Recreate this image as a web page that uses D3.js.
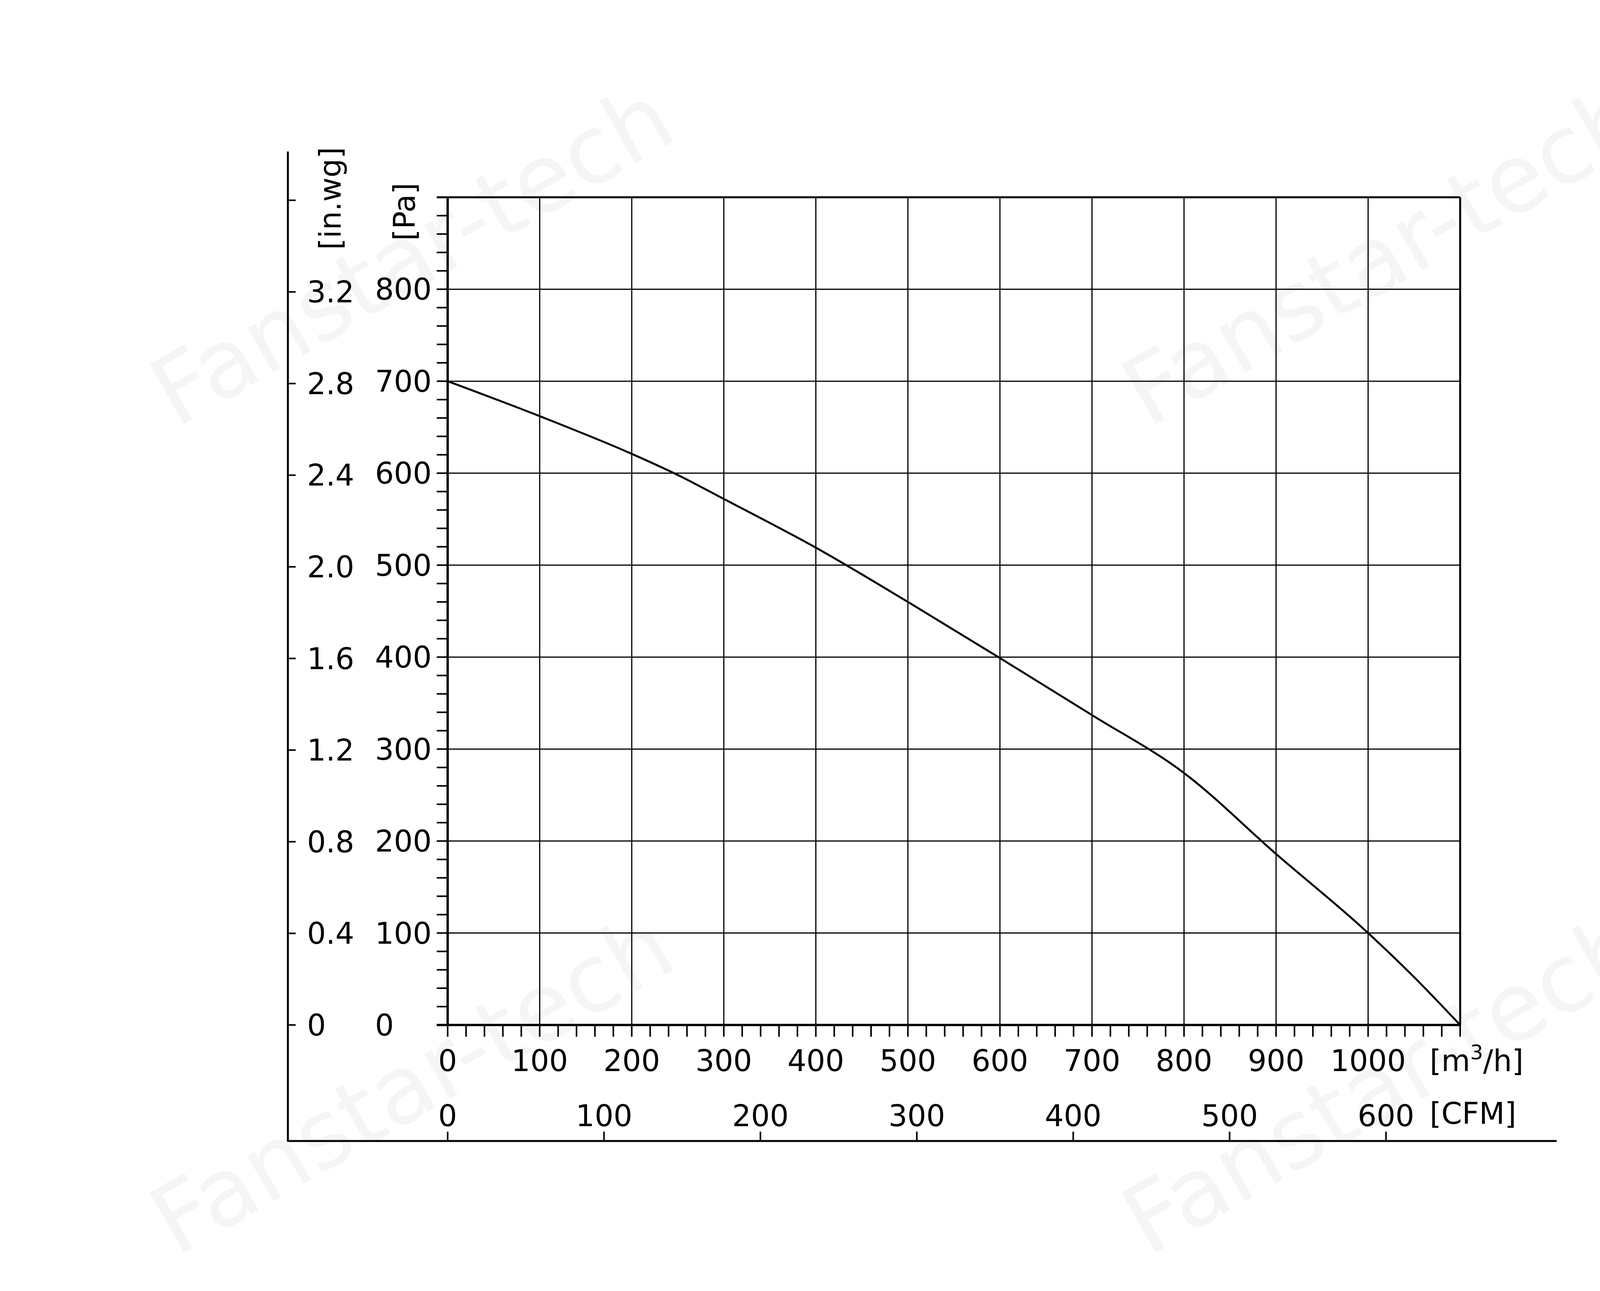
<!DOCTYPE html>
<html><head><meta charset="utf-8">
<script src="https://cdn.jsdelivr.net/npm/d3@7"></script>
<style>body{margin:0;background:#fff}</style></head>
<body><svg id="c" width="4677" height="3305"></svg>
<script>
const flow = [0,100,200,250,300,400,500,600,700,800,900,1000,1050,1100];
const pressure = [700,662,621,598,572,519,460,399,337,274,186,100,52,0];
const xTicks = [0,100,200,300,400,500,600,700,800,900,1000];
const paTicks = [0,100,200,300,400,500,600,700,800];
const inwgTicks = [0,0.4,0.8,1.2,1.6,2.0,2.4,2.8,3.2,3.6];
const cfmTicks = [0,100,200,300,400,500,600];

const svg = d3.select("#c");
const F = "DejaVu Sans, Verdana, sans-serif";
const x = d3.scaleLinear().domain([0,1100]).range([1146,3738]);
const y = d3.scaleLinear().domain([0,900]).range([2624,505]);
const yIn = d3.scaleLinear().domain([0,900/249.09]).range([2624,505]);
const xC = d3.scaleLinear().domain([0,1100/1.699]).range([1146,3738]);

// watermark
[[1096,725],[3584,725],[1096,2846],[3584,2846]].forEach(([cx,cy])=>{
  svg.append("text").attr("transform",`translate(${cx},${cy}) rotate(-30)`)
    .attr("text-anchor","middle")
    .attr("font-family",F).attr("font-size",242).attr("fill","#f5f5f5").text("Fanstar-tech");
});

const g = svg.append("g");
xTicks.concat([1100]).forEach(v=>g.append("line").attr("x1",x(v)).attr("x2",x(v)).attr("y1",y(0)).attr("y2",y(900)).attr("stroke","#000").attr("stroke-width",3));
paTicks.concat([900]).forEach(v=>g.append("line").attr("x1",x(0)).attr("x2",x(1100)).attr("y1",y(v)).attr("y2",y(v)).attr("stroke","#000").attr("stroke-width",3));
g.append("line").attr("x1",x(0)-28).attr("x2",x(1100)).attr("y1",y(900)).attr("y2",y(900)).attr("stroke","#000").attr("stroke-width",5);
g.append("line").attr("x1",x(1100)).attr("x2",x(1100)).attr("y1",y(0)).attr("y2",y(900)).attr("stroke","#000").attr("stroke-width",5);
g.append("line").attr("x1",x(0)).attr("x2",x(0)).attr("y1",y(0)).attr("y2",y(900)).attr("stroke","#000").attr("stroke-width",6);
g.append("line").attr("x1",x(0)-28).attr("x2",x(1100)).attr("y1",y(0)).attr("y2",y(0)).attr("stroke","#000").attr("stroke-width",6);

d3.range(0,901,20).forEach(v=>g.append("line").attr("x1",x(0)-28).attr("x2",x(0)).attr("y1",y(v)).attr("y2",y(v)).attr("stroke","#000").attr("stroke-width",4));
d3.range(0,1101,20).forEach(v=>g.append("line").attr("x1",x(v)).attr("x2",x(v)).attr("y1",y(0)).attr("y2",y(0)+30).attr("stroke","#000").attr("stroke-width",4));

paTicks.forEach(v=>svg.append("text").attr("x",960).attr("y",y(v)+27).attr("font-family",F).attr("font-size",76).text(v));
svg.append("line").attr("x1",737).attr("x2",737).attr("y1",388).attr("y2",2923).attr("stroke","#000").attr("stroke-width",5);
inwgTicks.forEach(v=>svg.append("line").attr("x1",737).attr("x2",757).attr("y1",yIn(v)).attr("y2",yIn(v)).attr("stroke","#000").attr("stroke-width",4));
inwgTicks.slice(0,-1).forEach(v=>svg.append("text").attr("x",786).attr("y",yIn(v)+27).attr("font-family",F).attr("font-size",76).text(v===0?"0":v.toFixed(1)));
svg.append("text").attr("transform","translate(872,508) rotate(-90)").attr("text-anchor","middle").attr("font-family",F).attr("font-size",76).text("[in.wg]");
svg.append("text").attr("transform","translate(1062,542) rotate(-90)").attr("text-anchor","middle").attr("font-family",F).attr("font-size",76).text("[Pa]");

xTicks.forEach(v=>svg.append("text").attr("x",x(v)).attr("y",2742).attr("text-anchor","middle").attr("font-family",F).attr("font-size",76).text(v));
const u = svg.append("text").attr("x",3660).attr("y",2742).attr("font-family",F).attr("font-size",76);
u.append("tspan").text("[m");
u.append("tspan").attr("dy",-30).attr("font-size",52).text("3");
u.append("tspan").attr("dy",30).text("/h]");

svg.append("line").attr("x1",737).attr("x2",3985).attr("y1",2921).attr("y2",2921).attr("stroke","#000").attr("stroke-width",5);
cfmTicks.forEach(v=>{
  svg.append("line").attr("x1",xC(v)).attr("x2",xC(v)).attr("y1",2921).attr("y2",2897).attr("stroke","#000").attr("stroke-width",4);
  svg.append("text").attr("x",xC(v)).attr("y",2883).attr("text-anchor","middle").attr("font-family",F).attr("font-size",76).text(v);
});
svg.append("text").attr("x",3660).attr("y",2877).attr("font-family",F).attr("font-size",76).text("[CFM]");

const line = d3.line().x((d,i)=>x(flow[i])).y(d=>y(d)).curve(d3.curveMonotoneX);
svg.append("path").attr("d",line(pressure)).attr("fill","none").attr("stroke","#000").attr("stroke-width",5);
</script></body></html>
